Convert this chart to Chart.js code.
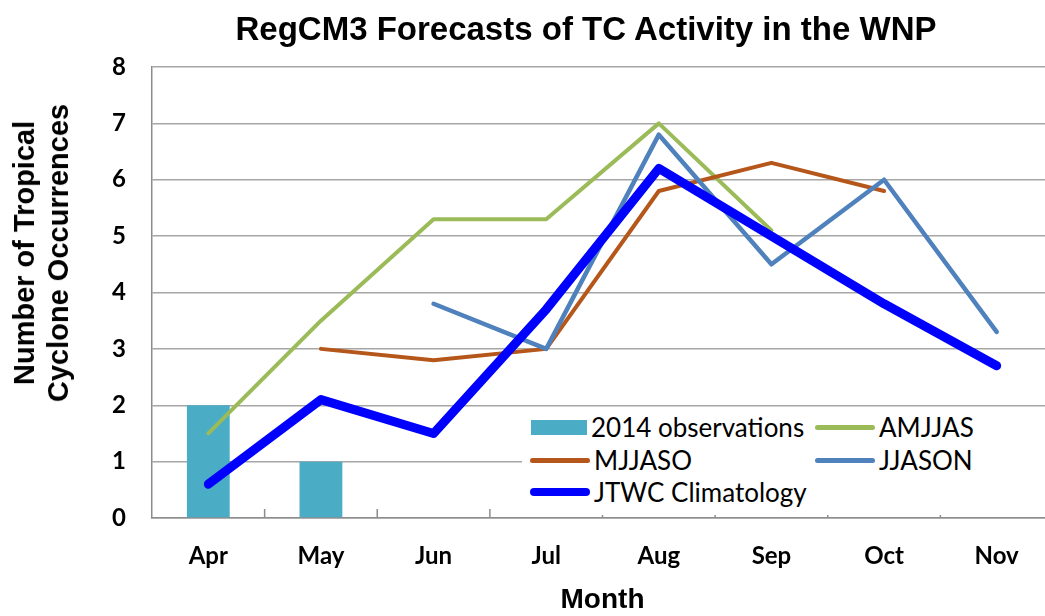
<!DOCTYPE html>
<html>
<head>
<meta charset="utf-8">
<script src="https://cdn.jsdelivr.net/npm/chart.js@4"></script>
<style>
    body { margin: 0; background: #fff; overflow: hidden; }
    .wrap { position: relative; width: 1080px; height: 616px; }
    .title {
        position: absolute; left: 0; top: 10px; width: 1172px; text-align: center;
        font: bold 33px "Liberation Sans", Arial, sans-serif; color: #000; line-height: 38px;
    }
    .ytitle {
        position: absolute; left: 41px; top: 253px; white-space: nowrap; text-align: center;
        transform: translate(-50%, -50%) rotate(-90deg);
        font: bold 29px "Liberation Sans", Arial, sans-serif; line-height: 34px; color: #000;
    }
    .legend {
        position: absolute; left: 522px; top: 409px; width: 560px; height: 106px;
        background: #fff; font: 26px Lato, sans-serif; color: #000;
    }
    .item { position: absolute; display: flex; align-items: center; height: 30px; }
    .swatch { margin-right: 4px; }
</style>
</head>
<body>
<div class="wrap">
    <canvas id="tcChart" width="1080" height="616"></canvas>
    <div class="title">RegCM3 Forecasts of TC Activity in the WNP</div>
    <div class="ytitle">Number of Tropical<br>Cyclone Occurrences</div>
    <div class="legend" id="legend"></div>
</div>
<script>
// Data
const months = ['Apr', 'May', 'Jun', 'Jul', 'Aug', 'Sep', 'Oct', 'Nov'];
const obs2014 = [2, 1, null, null, null, null, null, null];
const amjjas = [1.5, 3.5, 5.3, 5.3, 7.0, 5.1, null, null];
const mjjaso = [null, 3.0, 2.8, 3.0, 5.8, 6.3, 5.8, null];
const jjason = [null, null, 3.8, 3.0, 6.8, 4.5, 6.0, 3.3];
const jtwc = [0.6, 2.1, 1.5, 3.7, 6.2, 5.0, 3.8, 2.7];

const colors = {
    obs: '#4BACC6',
    amjjas: '#9BBB59',
    mjjaso: '#B5561B',
    jjason: '#4F81BD',
    jtwc: '#0000FF'
};

// small tick marks pointing up from the x axis between months
const innerTicks = {
    id: 'innerTicks',
    afterDatasetsDraw(chart) {
        const x = chart.scales.x;
        const bottom = chart.chartArea.bottom;
        const step = x.getPixelForValue(1) - x.getPixelForValue(0);
        const c = chart.ctx;
        c.save();
        c.strokeStyle = '#8c8c8c';
        c.lineWidth = 1.5;
        for (let i = 1; i < months.length; i++) {
            const px = x.getPixelForValue(i) - step / 2;
            c.beginPath();
            c.moveTo(px, bottom);
            c.lineTo(px, bottom - 9);
            c.stroke();
        }
        c.restore();
    }
};

const lineSet = (label, data, color, width, order) => ({
    type: 'line',
    label: label,
    data: data,
    borderColor: color,
    backgroundColor: color,
    borderWidth: width,
    tension: 0,
    pointRadius: 0,
    spanGaps: false,
    borderCapStyle: 'round',
    borderJoinStyle: 'round',
    order: order
});

const ctx = document.getElementById('tcChart').getContext('2d');
new Chart(ctx, {
    data: {
        labels: months,
        datasets: [
            {
                type: 'bar',
                label: '2014 observations',
                data: obs2014,
                backgroundColor: colors.obs,
                categoryPercentage: 1,
                barPercentage: 0.38,
                order: 5
            },
            lineSet('AMJJAS', amjjas, colors.amjjas, 4, 4),
            lineSet('MJJASO', mjjaso, colors.mjjaso, 4, 3),
            lineSet('JJASON', jjason, colors.jjason, 4.5, 2),
            lineSet('JTWC Climatology', jtwc, colors.jtwc, 9, 1)
        ]
    },
    options: {
        responsive: false,
        animation: false,
        layout: { padding: { top: 67, right: 27, left: 0, bottom: 0 } },
        plugins: {
            legend: { display: false },
            tooltip: { enabled: false }
        },
        scales: {
            x: {
                offset: true,
                grid: { display: false, drawTicks: false },
                border: { display: true, color: '#8c8c8c', width: 1.5 },
                ticks: {
                    color: '#000',
                    padding: 24,
                    font: { family: 'Lato', weight: 'bold', size: 24 }
                },
                title: {
                    display: true,
                    text: 'Month',
                    color: '#000',
                    padding: 0,
                    font: { family: 'Liberation Sans', weight: 'bold', size: 28, lineHeight: 1.1 }
                },
                afterFit(scale) { scale.height = 98; }
            },
            y: {
                min: 0,
                max: 8,
                grid: { color: '#a6a6a6', lineWidth: 1.5, drawTicks: false },
                border: { display: true, color: '#8c8c8c', width: 1.5 },
                ticks: {
                    stepSize: 1,
                    color: '#000',
                    padding: 26,
                    font: { family: 'Lato', weight: 'bold', size: 24 }
                },
                afterFit(scale) { scale.width = 152; }
            }
        }
    },
    plugins: [innerTicks]
});

// Legend boxed inside the plot area, like the original
const legendItems = [
    { text: '2014 observations', color: colors.obs, kind: 'box', left: 9, top: 3 },
    { text: 'AMJJAS', color: colors.amjjas, kind: 'line', w: 5, left: 293, top: 3 },
    { text: 'MJJASO', color: colors.mjjaso, kind: 'line', w: 5, left: 8, top: 36 },
    { text: 'JJASON', color: colors.jjason, kind: 'line', w: 5, left: 293, top: 36 },
    { text: 'JTWC Climatology', color: colors.jtwc, kind: 'line', w: 8, left: 8, top: 68 }
];
const legend = document.getElementById('legend');
legendItems.forEach(item => {
    const el = document.createElement('div');
    el.className = 'item';
    el.style.left = item.left + 'px';
    el.style.top = item.top + 'px';
    const sw = document.createElement('span');
    sw.className = 'swatch';
    sw.style.display = 'inline-block';
    sw.style.background = item.color;
    if (item.kind === 'box') {
        sw.style.width = '56px';
        sw.style.height = '15px';
    } else {
        sw.style.width = '60px';
        sw.style.height = item.w + 'px';
        sw.style.borderRadius = item.w + 'px';
    }
    el.appendChild(sw);
    const label = document.createElement('span');
    label.textContent = item.text;
    el.appendChild(label);
    legend.appendChild(el);
});
</script>
</body>
</html>
